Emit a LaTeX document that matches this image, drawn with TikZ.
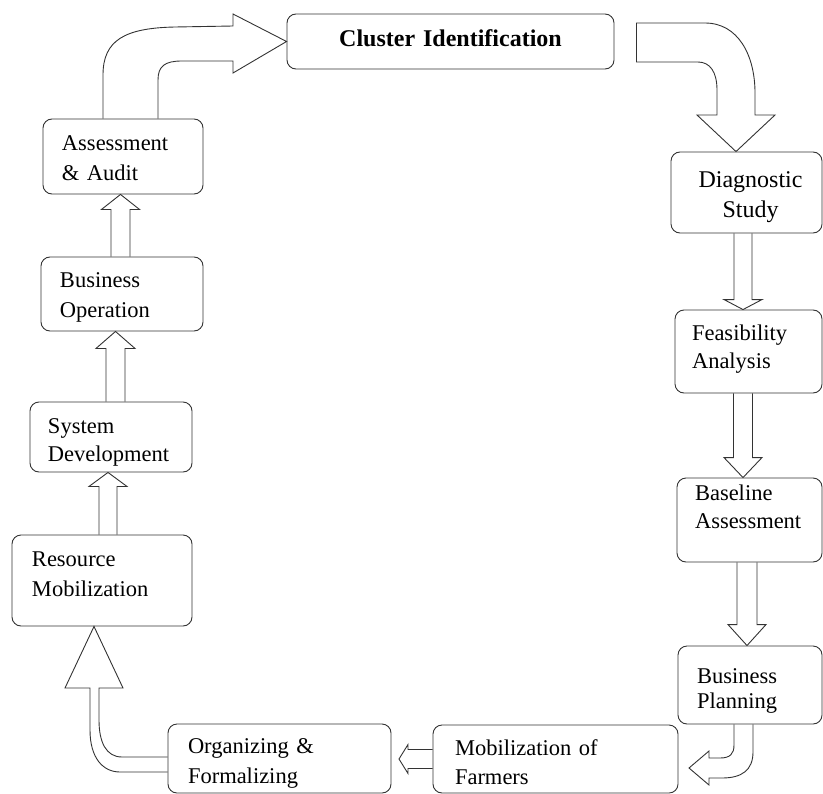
\documentclass[tikz,border=0pt]{standalone}
\usepackage{fontspec}
\setmainfont{Liberation Serif}
\usetikzlibrary{calc}
% #1 height above first baseline, #2 depth below last baseline, #3 line 1, #4 line 2
\newcommand\twoline[4]{\rule{0pt}{#1bp}#3\\#4\rule[-#2bp]{0pt}{#2bp}}
% straight block arrow: #1 start, #2 tip, #3 stem half width, #4 head half width, #5 head length
\newcommand\blk[5]{%
  \coordinate (hb) at ($(#2)!#5bp!(#1)$);
  \draw[barrow] ($(#1)!#3bp!90:(#2)$) -- ($(hb)!#3bp!90:(#2)$) -- ($(hb)!#4bp!90:(#2)$) -- (#2)
     -- ($(hb)!#4bp!-90:(#2)$) -- ($(hb)!#3bp!-90:(#2)$) -- ($(#1)!#3bp!-90:(#2)$);
}
\tikzset{
  box/.style={draw=black!80, line width=0.9bp, rounded corners=9bp, inner ysep=0pt,
              minimum height=0pt, align=left},
  fs/.style 2 args={font={\fontsize{#1bp}{#2bp}\selectfont}},
  barrow/.style={draw=black!80, line width=0.9bp, line join=miter}
}
\begin{document}
\begin{tikzpicture}[x=1bp, y=-1bp]
\useasboundingbox (0,0) rectangle (823,794);
\clip (0,0) rectangle (823,794);

% boxes
\node[box, align=center, inner xsep=5bp, text width=317bp, fs={24}{29}] (cluster) at (450.5,41.5)
  {\bfseries\rule{0pt}{33bp}Cluster Identification\rule[-22bp]{0pt}{22bp}};
\node[box, align=center, inner xsep=5bp, text width=141bp, fs={24}{30}] (diag) at (746.5,192.5)
  {\twoline{35}{16}{\hspace*{8bp}Diagnostic}{\hspace*{8bp}Study}};
\node[box, inner xsep=17bp, text width=113bp, fs={22.5}{28}] (feas) at (748.5,351.5)
  {\twoline{30}{25}{Feasibility}{Analysis}};
\node[box, inner xsep=18bp, text width=109bp, fs={22.5}{28}] (base) at (749.5,520)
  {\twoline{22}{34}{Baseline}{Assessment}};
\node[box, inner xsep=19bp, text width=106bp, fs={22.5}{25}] (bp) at (750,685)
  {\twoline{37}{16}{Business}{Planning}};
\node[box, inner xsep=22bp, text width=201bp, fs={22.5}{29}] (mob) at (555.5,759)
  {\twoline{30}{9}{Mobilization of}{Farmers}};
\node[box, inner xsep=20bp, text width=183bp, fs={22.5}{30}] (org) at (279.5,758.5)
  {\twoline{29}{10}{Organizing \&}{Formalizing}};
\node[box, inner xsep=20bp, text width=140bp, fs={22.5}{30}] (res) at (102,580.5)
  {\twoline{31}{30}{Resource}{Mobilization}};
\node[box, inner xsep=18bp, text width=126bp, fs={22.5}{28}] (sys) at (111,437)
  {\twoline{31}{11}{System}{Development}};
\node[box, inner xsep=19bp, text width=124bp, fs={22.5}{30}] (bop) at (122,294)
  {\twoline{30}{14}{Business}{Operation}};
\node[box, inner xsep=19bp, text width=122bp, fs={22.5}{30}] (ass) at (123,156.5)
  {\twoline{31}{14}{Assessment}{\& Audit}};

% straight block arrows
\coordinate (a1s) at (120.5,0 |- bop.north);   \coordinate (a1t) at (120.5,0 |- ass.south);
\coordinate (a2s) at (115.5,0 |- sys.north);   \coordinate (a2t) at (115.5,0 |- bop.south);
\coordinate (a3s) at (108,0 |- res.north);     \coordinate (a3t) at (108,0 |- sys.south);
\coordinate (a4s) at (743,0 |- diag.south);    \coordinate (a4t) at (743,0 |- feas.north);
\coordinate (a5s) at (743,0 |- feas.south);    \coordinate (a5t) at (743,0 |- base.north);
\coordinate (a6s) at (747,0 |- base.south);    \coordinate (a6t) at (747,0 |- bp.north);
\coordinate (a7s) at (mob.west);               \coordinate (a7t) at (399,0 |- mob.west);
\blk{a1s}{a1t}{9.5}{19}{15}
\blk{a2s}{a2t}{9.5}{19.5}{17}
\blk{a3s}{a3t}{9}{19}{14}
\blk{a4s}{a4t}{9}{19}{10}
\blk{a5s}{a5t}{9.5}{19}{20}
\blk{a6s}{a6t}{10}{19}{21}
\blk{a7s}{a7t}{9.5}{14.5}{9}

% curved block arrows
\draw[barrow] (103,0 |- ass.north) -- (103,75) .. controls (103,40) and (125,28) .. (175,27)
  -- (233,26) -- (233,14) -- (cluster.west) -- (233,73) -- (233,61) -- (182,61)
  .. controls (165,61) and (158,66) .. (158,80) -- (158,0 |- ass.north);

\coordinate (c2s) at ($(cluster.east)+(22,0)$);
\draw[barrow] (c2s |- 0,23) -- (705,23) .. controls (738,23) and (755,55) .. (755,93)
  -- (755,115) -- (775,115) -- (736,0 |- diag.north) -- (697,115) -- (717,115) -- (717,90)
  .. controls (717,72) and (710,62) .. (698,62) -- (c2s |- 0,62) -- cycle;

\draw[barrow] (734,0 |- bp.south) -- (734,745) .. controls (734,754) and (730,758) .. (720,758)
  -- (709,758) -- (709,751) -- (689,768) -- (709,785) -- (709,778) -- (722,778)
  .. controls (742,778) and (753,770) .. (753,752) -- (753,0 |- bp.south);

\draw[barrow] (org.west |- 0,757) -- (122,757) .. controls (106,757) and (99,742) .. (99,720)
  -- (99,688) -- (123,688) -- (94,0 |- res.south) -- (65,688) -- (90,688) -- (90,730)
  .. controls (90,758) and (103,772) .. (120,772) -- (org.west |- 0,772);
\end{tikzpicture}
\end{document}
